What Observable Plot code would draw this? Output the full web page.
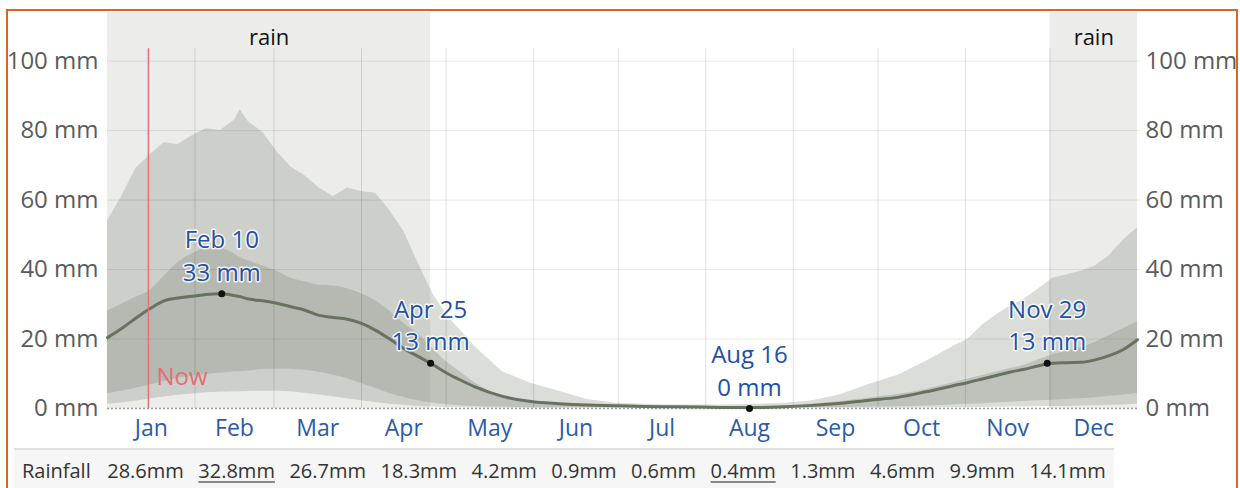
<!DOCTYPE html>
<html><head><meta charset="utf-8">
<script src="https://cdn.jsdelivr.net/npm/d3@7"></script>
<script src="https://cdn.jsdelivr.net/npm/@observablehq/plot@0.6"></script>
<style>
body{margin:0;background:#fff;font-family:"Open Sans",sans-serif;}
#wrap{position:relative;width:1240px;height:488px;overflow:hidden;}
#frame{position:absolute;left:6px;top:9px;width:1232px;height:600px;border:2px solid #d2691e;border-bottom:none;box-sizing:border-box;pointer-events:none;z-index:2}
#chart{position:absolute;left:0;top:0;}
#table{position:absolute;left:14px;top:448px;width:1100px;height:44px;border-top:2px solid #e0e0e0;background:#f6f6f6;display:flex;align-items:center;gap:14.5px;padding-left:8px;padding-bottom:2px;font-size:20px;color:#333;box-sizing:border-box}
#table span.u{text-decoration:underline;text-decoration-color:#888;text-underline-offset:3px}
</style>
</head><body>
<div id="wrap"><div id="chart"></div><div id="table"></div><div id="frame"></div></div>
<script>
// ---- data ----
const months = ["Jan","Feb","Mar","Apr","May","Jun","Jul","Aug","Sep","Oct","Nov","Dec"];
const monthStarts = [0,31,59,90,120,151,181,212,243,273,304,334,365];
const yTicks = [0,20,40,60,80,100];
const days = [0,5,10,15,20,25,30,35,40,45,47,50,55,60,65,70,75,80,85,90,95,100,105,110,115,120,125,130,140,150,160,170,180,190,200,210,220,230,240,250,260,270,280,290,300,305,310,315,320,325,330,335,340,345,350,355,360,365];
const p90 = [54,61,69,73,76.5,76,78.5,80.5,80,83,86,82.5,79.5,74,69.5,67,63.5,61,63.5,62.5,62,57,51,42,33.5,27,22.5,18,10.5,7.3,5,2.6,1.5,1.2,1.0,1.0,1.0,1.2,1.5,2.2,4,7,9.5,13.5,18,20,24,27,29.5,31.5,34.5,37.5,38.5,39.5,41,44,48.5,52];
const p75 = [28,30,32,34,38,42,44.5,46,46,44.5,43.5,42.5,41,39.5,37.5,36.5,35.5,35.3,34.5,33,31,28,24.5,21.5,17.5,13.5,10.5,7.5,3.5,2,1.4,1.0,0.7,0.6,0.5,0.5,0.5,0.6,0.8,1.3,2,3,4,5.5,7.5,8.5,9.5,10.5,11.5,12.5,14,15.5,16.5,17.5,19,21,23,25];
const median = [20.4,23,26,28.7,31,31.8,32.3,32.8,33,32.5,32.2,31.5,31,30.3,29.3,28.3,26.8,26.2,25.7,24.5,22.5,20,17.3,15,12.8,10.3,8.2,6.3,3.5,2.0,1.4,1.0,0.8,0.6,0.5,0.4,0.3,0.3,0.5,0.9,1.5,2.4,3.2,4.8,6.6,7.5,8.5,9.5,10.5,11.3,12.3,13,13.2,13.3,14,15.2,17,19.8];
const p25 = [4.3,5,5.8,6.8,7.8,8.7,9.3,9.8,10.2,10.5,10.6,10.8,11.2,11.4,11.3,11,10.4,9.6,8.6,7.2,5.8,4.3,3.2,2.2,1.6,1.1,0.8,0.6,0.4,0.2,0.2,0.2,0.2,0.2,0.2,0.2,0.2,0.2,0.2,0.2,0.3,0.4,0.5,0.7,1,1.2,1.4,1.6,1.8,2,2.2,2.4,2.6,2.8,3.1,3.5,3.9,4.3];
const p10 = [1.2,1.6,2.1,2.7,3.3,3.8,4.2,4.5,4.7,4.8,4.8,4.9,5,5,4.8,4.4,3.9,3.4,2.8,2.2,1.7,1.2,0.9,0.6,0.4,0.3,0.2,0.15,0.1,0.1,0.1,0.1,0.1,0.1,0.1,0.1,0.1,0.1,0.1,0.1,0.1,0.1,0.1,0.15,0.2,0.25,0.3,0.35,0.4,0.45,0.5,0.55,0.6,0.7,0.8,0.9,1.0,1.2];
const wetStart = [0, 334];
const wetEnd = [114.5, 365];
const wetLabel = ["rain","rain"];
const annotLabels = ["Feb 10","Apr 25","Aug 16","Nov 29"];
const annotDays = [40.5,114.5,227.5,333];
const annotValues = [33,13,0,13];
const nowDay = 14.5;
const nowLabel = "Now";
const rainfallLabel = "Rainfall";
const rainfallMonthly = [28.6,32.8,26.7,18.3,4.2,0.9,0.6,0.4,1.3,4.6,9.9,14.1];

// ---- tables ----
const rows = days.map((d,i)=>({day:d,p10:p10[i],p25:p25[i],median:median[i],p75:p75[i],p90:p90[i]}));
const wet = wetStart.map((s,i)=>({start:s,end:wetEnd[i],label:wetLabel[i]}));
const annots = annotLabels.map((l,i)=>({label:l,day:annotDays[i],value:annotValues[i]}));
const monthMids = months.map((m,i)=>(monthStarts[i]+monthStarts[i+1])/2);
const yTop = 114, gridTop = 103.6;

const chart = Plot.plot({
  width:1240, height:445,
  marginLeft:107, marginRight:103, marginTop:12, marginBottom:37,
  x:{domain:[0,365], axis:null},
  y:{domain:[0,yTop], axis:null},
  style:{fontFamily:"'Open Sans', sans-serif", background:"transparent", overflow:"visible"},
  marks:[
    Plot.rectY(wet, {x1:"start", x2:"end", y1:0, y2:yTop, fill:"#ececea"}),
    Plot.areaY(rows, {x:"day", y1:"p10", y2:"p90", fill:"#8f978a", fillOpacity:0.33, curve:"linear"}),
    Plot.areaY(rows, {x:"day", y1:"p25", y2:"p75", fill:"#7d8676", fillOpacity:0.3, curve:"monotone-x"}),
    Plot.ruleY(yTicks.slice(1), {x1:0, x2:366, stroke:"#000", strokeOpacity:0.09}),
    Plot.ruleX(monthStarts.slice(1,12), {y1:0, y2:gridTop, stroke:"#000", strokeOpacity:0.12}),
    Plot.ruleY([0], {x1:0, x2:365, stroke:"#9a9a9a", strokeDasharray:"2,2", strokeWidth:1.5}),
    Plot.lineY(rows, {x:"day", y:"median", stroke:"#67725f", strokeWidth:3, curve:"monotone-x"}),
    Plot.ruleX([nowDay], {y1:0, y2:gridTop, stroke:"#e8707a", strokeWidth:1.5}),
    Plot.text([nowLabel], {x:nowDay, frameAnchor:"bottom", dy:-24, dx:8, textAnchor:"start", fill:"#e46d76", fontSize:24}),
    Plot.dot(annots, {x:"day", y:"value", r:3.5, fill:"#111"}),
    Plot.text(annots, {x:"day", y:"value", text:d=>`${d.label}\n${d.value} mm`, lineAnchor:"bottom", dy:-13, lineHeight:1.35, fontSize:24, fill:"#2350a6", stroke:"white", strokeWidth:3, strokeOpacity:0.85}),
    Plot.text(wet, {x:d=>(d.start+d.end)/2, text:"label", frameAnchor:"top", dy:17, fontSize:22, fill:"#111"}),
    Plot.axisY({anchor:"left", ticks:yTicks, tickFormat:d=>`${d} mm`, tickSize:0, tickPadding:9, fontSize:24, fill:"#5b5b5b", label:null}),
    Plot.axisY({anchor:"right", ticks:yTicks, tickFormat:d=>`${d} mm`, tickSize:0, tickPadding:8, fontSize:24, fill:"#5b5b5b", label:null}),
    Plot.axisX({ticks:monthMids, tickFormat:d=>months[monthMids.indexOf(d)], tickSize:0, tickPadding:11, fontSize:23, fill:"#2b5ba8", label:null})
  ]
});
document.getElementById("chart").appendChild(chart);

// ---- rainfall row ----
const tbl = document.getElementById("table");
const mx = Math.max(...rainfallMonthly), mn = Math.min(...rainfallMonthly);
const lab = document.createElement("span"); lab.textContent = rainfallLabel; lab.style.marginRight="2px"; tbl.appendChild(lab);
rainfallMonthly.forEach(v=>{
  const s = document.createElement("span");
  s.textContent = v.toFixed(1)+"mm";
  if (v===mx || v===mn) s.className="u";
  tbl.appendChild(s);
});
</script>
</body></html>
